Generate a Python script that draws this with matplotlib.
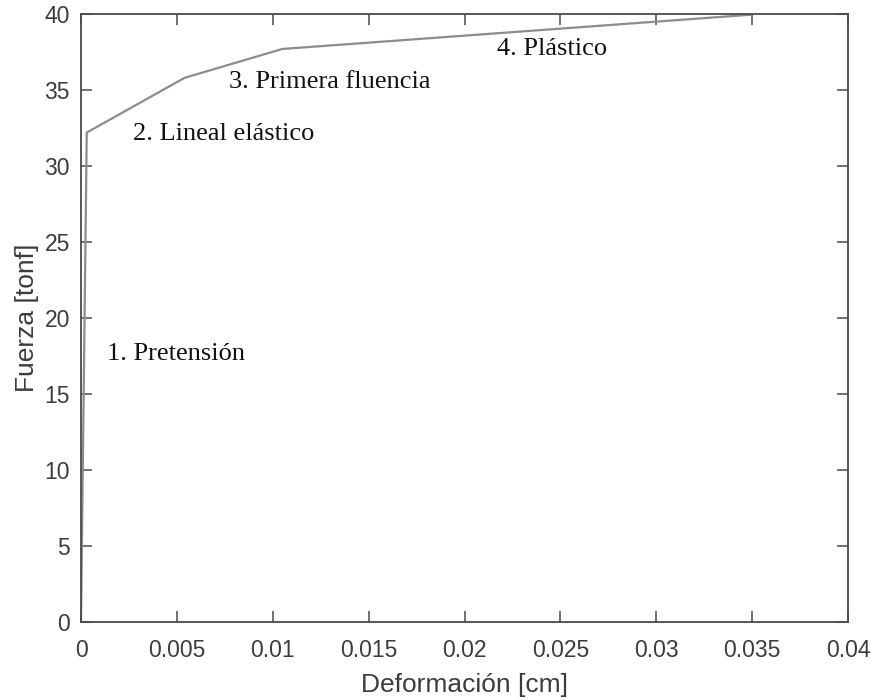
import numpy as np, matplotlib
matplotlib.use("Agg"); import matplotlib.pyplot as plt

# load-deformation curve
deform = [0.0, 0.0003, 0.0054, 0.0105, 0.0349]
fuerza = [0.0, 32.2, 35.8, 37.7, 39.95]
stages = ["1. Pretensión", "2. Lineal elástico", "3. Primera fluencia", "4. Plástico"]
stage_x = [0.00135, 0.0027, 0.0077, 0.0217]
stage_y = [17.6, 32.1, 35.5, 37.7]

AX = "#4a4a4a"; LINE = "#8c8c8c"; LAB = "#3c3c3c"
plt.rcParams.update({"font.family": ["Liberation Sans", "DejaVu Sans"], "font.size": 15})

fig = plt.figure(figsize=(8.71, 7.0), dpi=100)
ax = fig.add_axes([81/871, 1-622/700, (848-81)/871, (622-14)/700])
ax.plot(deform, fuerza, color=LINE, lw=1.6)
for s, x, y in zip(stages, stage_x, stage_y):
    ax.text(x, y, s, family=["Liberation Serif", "DejaVu Serif"], fontsize=19,
            color="#111111", va="center", ha="left")
ax.set_xlim(0, 0.04); ax.set_ylim(0, 40)
ax.set_xticks(np.arange(0, 0.0401, 0.005))
ax.set_xticklabels(["0", "0.005", "0.01", "0.015", "0.02", "0.025", "0.03", "0.035", "0.04"])
ax.set_yticks(np.arange(0, 41, 5))
ax.tick_params(direction="in", top=True, right=True, length=8, width=1.1,
               color=AX, labelcolor=LAB, labelsize=16.5)
ax.tick_params(axis="x", pad=12)
ax.tick_params(axis="y", pad=8)
for sp in ax.spines.values():
    sp.set_color(AX); sp.set_linewidth(1.3)
ax.set_xlabel("Deformación [cm]", color=LAB, fontsize=19, labelpad=8)
ax.set_ylabel("Fuerza [tonf]", color=LAB, fontsize=19, labelpad=4)
fig.savefig("out.png", dpi=100, facecolor="white")
